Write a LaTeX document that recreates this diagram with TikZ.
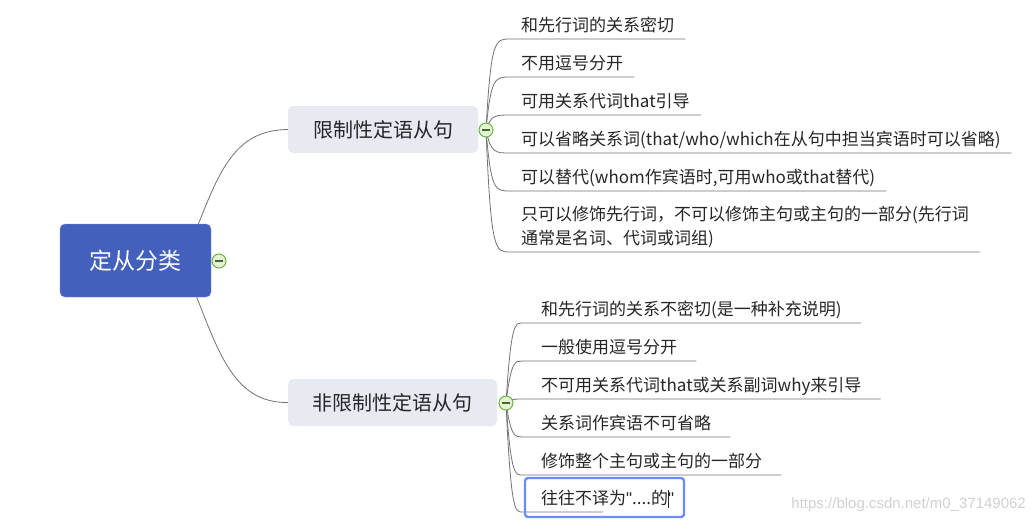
\documentclass[tikz,border=0pt]{standalone}
\usepackage{fontspec}
\setmainfont{Noto Sans CJK SC}
\newfontfamily\wmfont{Liberation Sans}
\newcommand{\sq}{{\wmfont"}}
\newcommand{\editcursor}{\makebox[0pt]{\rule[-3pt]{0.8pt}{18pt}}}
\begin{document}
\begin{tikzpicture}[x=1pt,y=-1pt,
  link/.style={draw=black!55, line width=0.8pt},
  rootbox/.style={fill=rootblue, draw=rootblue!70!white, rounded corners=5pt, text=white, font=\fontsize{23}{27}\selectfont, minimum width=151pt, minimum height=73pt, inner sep=0pt},
  topicbox/.style={fill=topicgray, rounded corners=5pt, text=black!85, font=\fontsize{20}{24}\selectfont, minimum height=47pt, inner sep=0pt},
  leaf/.style={anchor=south west, inner xsep=11pt, inner ysep=3pt, text=black!85, font=\fontsize{17}{24}\selectfont, text height=13pt, text depth=4pt, align=left},
  collapse/.style={circle, draw=togglegreen, fill=togglefill, line width=1pt, minimum size=14pt, inner sep=0pt},
]
\definecolor{rootblue}{HTML}{4360BD}
\definecolor{topicgray}{HTML}{E8EAF2}
\definecolor{togglegreen}{HTML}{6DB33F}
\definecolor{togglefill}{HTML}{E4F2D6}
\definecolor{editblue}{HTML}{6B8CFF}
\useasboundingbox (0,0) rectangle (1035,523);
\fill[white] (0,0) rectangle (1035,523);

% main nodes
\node[topicbox, minimum width=190pt] (l1) at (383,129.5) {限制性定语从句};
\node[topicbox, minimum width=209pt] (l2) at (392.5,402.5) {非限制性定语从句};

\coordinate (c1) at (486,130);
\coordinate (c2) at (506,403);
\coordinate (c0) at (219,261);

% leaves, group 1
\node[leaf] (a1) at (510,39) {和先行词的关系密切};
\node[leaf] (a2) at (510,77) {不用逗号分开};
\node[leaf] (a3) at (510,115) {可用关系代词that引导};
\node[leaf] (a4) at (510,153) {可以省略关系词(that/who/which在从句中担当宾语时可以省略)};
\node[leaf] (a5) at (510,191) {可以替代(whom作宾语时,可用who或that替代)};
\node[leaf] (a6) at (510,252) {只可以修饰先行词，不可以修饰主句或主句的一部分(先行词\\通常是名词、代词或词组)};

% leaves, group 2
\node[leaf, inner xsep=19pt] (b1) at (522,323) {和先行词的关系不密切(是一种补充说明)};
\node[leaf, inner xsep=19pt] (b2) at (522,361) {一般使用逗号分开};
\node[leaf, inner xsep=19pt] (b3) at (522,399) {不可用关系代词that或关系副词why来引导};
\node[leaf, inner xsep=19pt] (b4) at (522,437) {关系词作宾语不可省略};
\node[leaf, inner xsep=19pt] (b5) at (522,475) {修饰整个主句或主句的一部分};
\node[leaf, inner xsep=19pt] (b6) at (522,512) {往往不译为\sq....的\editcursor\sq};
\coordinate (b6end) at (603,512);

% root-level connectors
\draw[link] (192,240) .. controls (218,175) and (232,130) .. (l1.west);
\draw[link] (190,280) .. controls (218,350) and (232,403) .. (l2.west);

% leaf connectors and underlines
\foreach \n/\y in {a1/39,a2/77,a3/115,a4/153,a5/191,a6/252}{
  \draw[link] (c1) .. controls (491,\y) and (495,\y) .. (\n.south west) -- (\n.south east);
}
\foreach \n/\y in {b1/323,b2/361,b3/399,b4/437,b5/475}{
  \draw[link] (c2) .. controls (511,\y) and (515,\y) .. (\n.south west) -- (\n.south east);
}
\draw[link] (c2) .. controls (511,512) and (515,512) .. (b6.south west) -- (b6end);

% root on top
\node[rootbox] (root) at (135.5,260.5) {定从分类};

% edit box
\draw[editblue, line width=2.4pt, rounded corners=3pt] (525,478) rectangle (684,517);

% collapse toggles
\foreach \c in {c0,c1,c2}{
  \node[collapse] (t\c) at (\c) {};
  \draw[togglegreen!60!black, line width=1.2pt] ([xshift=-4pt]\c) -- ([xshift=4pt]\c);
}

% watermark
\node[anchor=east, text=black!18, font=\wmfont\fontsize{15}{18}\selectfont, inner sep=0pt] (wm) at (1026,505) {https://blog.csdn.net/m0\_37149062};
\end{tikzpicture}
\end{document}
